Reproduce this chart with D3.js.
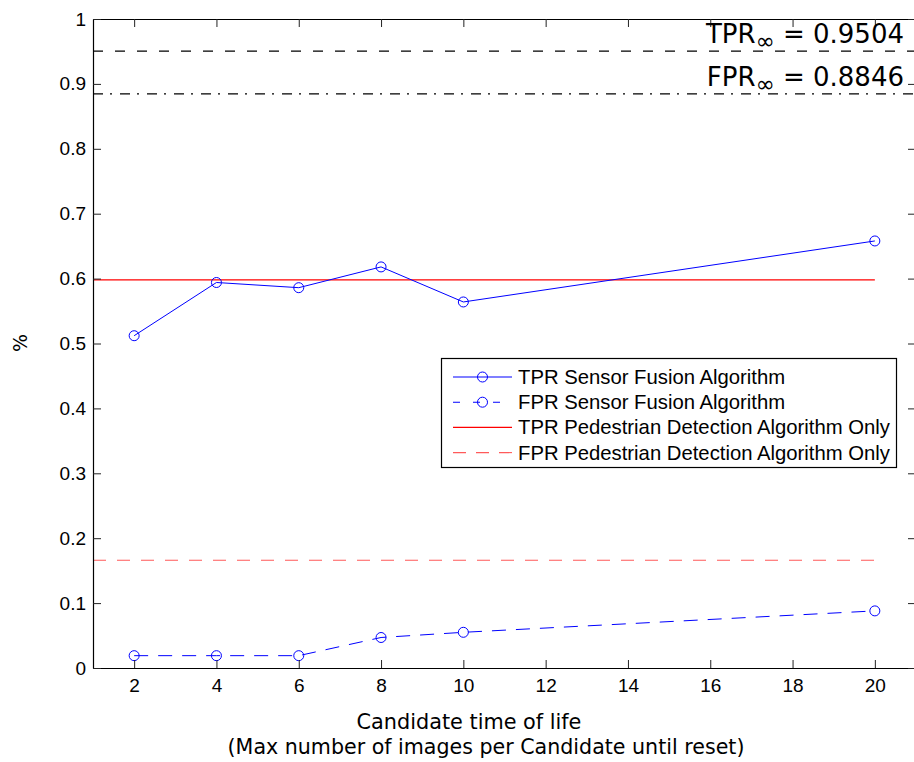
<!DOCTYPE html>
<html><head><meta charset="utf-8">
<script src="https://cdn.jsdelivr.net/npm/d3@7"></script>
<style>body{margin:0;background:#fff}svg{display:block}</style>
</head><body>
<script>
// ---- data ----
const xValues = [2, 4, 6, 8, 10, 20];
const tprFusion = [0.512, 0.594, 0.586, 0.618, 0.564, 0.658];
const fprFusion = [0.019, 0.019, 0.019, 0.047, 0.055, 0.088];
const tprPedestrian = 0.598;
const fprPedestrian = 0.166;
const tprInf = 0.9504;
const fprInf = 0.8846;
const xTicks = [2, 4, 6, 8, 10, 12, 14, 16, 18, 20];
const yTicks = [0, 0.1, 0.2, 0.3, 0.4, 0.5, 0.6, 0.7, 0.8, 0.9, 1];
const yTickLabels = ["0", "0.1", "0.2", "0.3", "0.4", "0.5", "0.6", "0.7", "0.8", "0.9", "1"];
const legendLabels = ["TPR Sensor Fusion Algorithm", "FPR Sensor Fusion Algorithm",
  "TPR Pedestrian Detection Algorithm Only", "FPR Pedestrian Detection Algorithm Only"];
const xLabelLines = ["Candidate time of life", "(Max number of images per Candidate until reset)"];
const yLabel = "%";

// ---- layout ----
const W = 914, H = 762;
const L = 93, R = 916, T = 19, B = 668;
const svg = d3.select("body").append("svg").attr("width", W).attr("height", H);
const x = d3.scaleLinear().domain([1, 21]).range([L, R]);
const y = d3.scaleLinear().domain([0, 1]).range([B, T]);
const tickFont = "'Liberation Sans', Arial, sans-serif";
const labelFont = "'DejaVu Sans', sans-serif";

// reference lines (infinite)
svg.append("line").attr("x1", x(1)).attr("x2", x(21)).attr("y1", y(tprInf)).attr("y2", y(tprInf))
  .attr("stroke", "#000").attr("stroke-width", 1.2).attr("stroke-dasharray", "10,12");
svg.append("line").attr("x1", x(1)).attr("x2", x(21)).attr("y1", y(fprInf)).attr("y2", y(fprInf))
  .attr("stroke", "#000").attr("stroke-width", 1.2).attr("stroke-dasharray", "10,7,2,8");

// pedestrian-only lines
const xEnd = xValues[xValues.length - 1];
svg.append("line").attr("x1", x(1)).attr("x2", x(xEnd)).attr("y1", y(tprPedestrian)).attr("y2", y(tprPedestrian))
  .attr("stroke", "#ff0000").attr("stroke-width", 1.2);
svg.append("line").attr("x1", x(1)).attr("x2", x(xEnd)).attr("y1", y(fprPedestrian)).attr("y2", y(fprPedestrian))
  .attr("stroke", "#ff5a5a").attr("stroke-width", 1.2).attr("stroke-dasharray", "13,11");

// fusion series
const line = d3.line().x(d => x(d[0])).y(d => y(d[1]));
const tprData = xValues.map((v, i) => [v, tprFusion[i]]);
const fprData = xValues.map((v, i) => [v, fprFusion[i]]);
svg.append("path").datum(tprData).attr("d", line).attr("fill", "none").attr("stroke", "#0000ff").attr("stroke-width", 1);
svg.append("path").datum(fprData).attr("d", line).attr("fill", "none").attr("stroke", "#0000ff").attr("stroke-width", 1)
  .attr("stroke-dasharray", "14,10");
[tprData, fprData].forEach(data => {
  svg.append("g").selectAll("circle").data(data).join("circle")
    .attr("cx", d => x(d[0])).attr("cy", d => y(d[1])).attr("r", 5)
    .attr("fill", "none").attr("stroke", "#0000ff").attr("stroke-width", 1);
});

// axes
function styleAxis(g) {
  g.selectAll("path.domain").attr("stroke", "#000").attr("stroke-width", 1.2);
  g.selectAll(".tick line").attr("stroke", "#222");
  g.selectAll(".tick text").attr("font-family", tickFont).attr("font-size", 19).attr("fill", "#000");
}
svg.append("g").attr("transform", `translate(0,${B})`)
  .call(d3.axisBottom(x).tickValues(xTicks).tickSizeInner(-8).tickSizeOuter(0).tickPadding(11))
  .call(styleAxis);
svg.append("g").attr("transform", `translate(0,${T})`)
  .call(d3.axisTop(x).tickValues(xTicks).tickSizeInner(-8).tickSizeOuter(0).tickFormat(""))
  .call(styleAxis);
svg.append("g").attr("transform", `translate(${L},0)`)
  .call(d3.axisLeft(y).tickValues(yTicks).tickSizeInner(-8).tickSizeOuter(0).tickPadding(7)
    .tickFormat((d, i) => yTickLabels[i]))
  .call(styleAxis);
svg.append("g").attr("transform", `translate(${R},0)`)
  .call(d3.axisRight(y).tickValues(yTicks).tickSizeInner(-8).tickSizeOuter(0).tickFormat(""))
  .call(styleAxis);

// annotations
function annot(label, val, baseY) {
  const t = svg.append("text").attr("x", 904).attr("y", baseY).attr("text-anchor", "end")
    .attr("font-family", labelFont).attr("font-size", 26).attr("fill", "#000");
  t.append("tspan").text(label);
  t.append("tspan").attr("font-size", 23).attr("dy", 6).text("\u221E");
  t.append("tspan").attr("dy", -6).text(" = " + val.toFixed(4));
}
annot("TPR", tprInf, 43);
annot("FPR", fprInf, 86);

// legend
const lg = svg.append("g");
lg.append("rect").attr("x", 441.5).attr("y", 358.5).attr("width", 455).attr("height", 109)
  .attr("fill", "#fff").attr("stroke", "#000").attr("stroke-width", 1.2);
const rows = [
  {c: "#0000ff", dash: null, marker: true},
  {c: "#0000ff", dash: "7,13", marker: true},
  {c: "#ff0000", dash: null, marker: false},
  {c: "#ff5a5a", dash: "13,10", marker: false}
];
rows.forEach((r, i) => {
  const ry = 377 + i * 25.2;
  lg.append("line").attr("x1", 453).attr("x2", 512).attr("y1", ry).attr("y2", ry)
    .attr("stroke", r.c).attr("stroke-width", 1.1).attr("stroke-dasharray", r.dash);
  if (r.marker) lg.append("circle").attr("cx", 482.5).attr("cy", ry).attr("r", 5)
    .attr("fill", "none").attr("stroke", r.c);
  lg.append("text").attr("x", 518).attr("y", ry + 7).attr("font-family", tickFont)
    .attr("font-size", 20.3).attr("fill", "#000").text(legendLabels[i]);
});

// axis labels
svg.append("text").attr("x", 469).attr("y", 729).attr("text-anchor", "middle")
  .attr("font-family", labelFont).attr("font-size", 20.8).text(xLabelLines[0]);
svg.append("text").attr("x", 486).attr("y", 754).attr("text-anchor", "middle")
  .attr("font-family", labelFont).attr("font-size", 20.6).text(xLabelLines[1]);
svg.append("text").attr("transform", "translate(27,343) rotate(-90)").attr("text-anchor", "middle")
  .attr("font-family", labelFont).attr("font-size", 19).text(yLabel);
</script>
</body></html>
